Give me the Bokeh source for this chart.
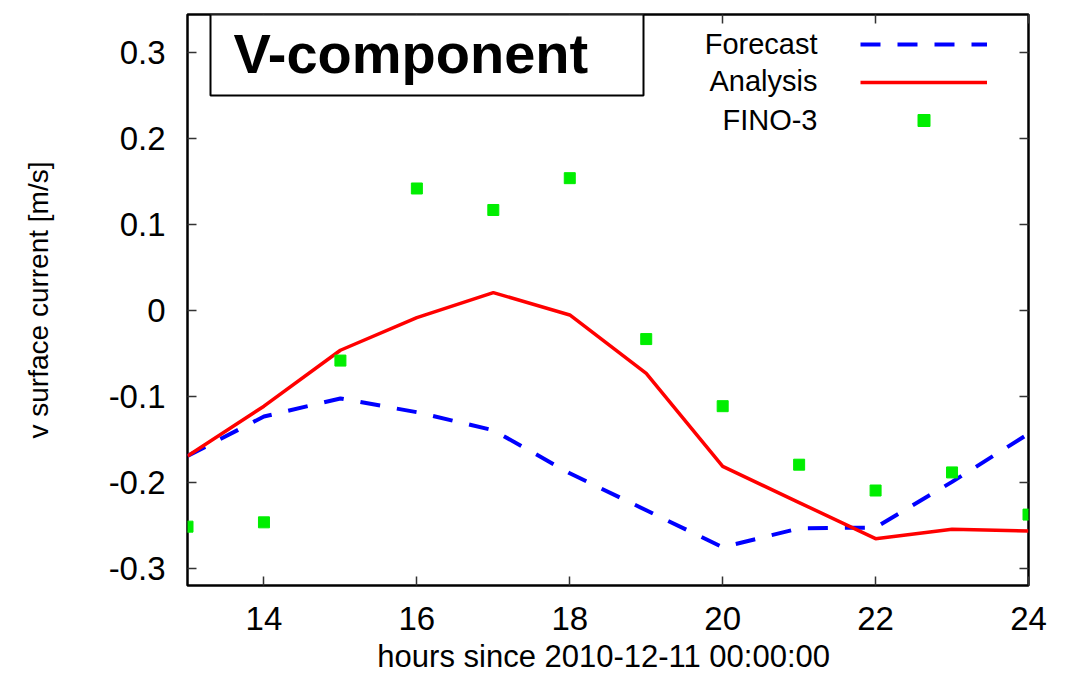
from bokeh.plotting import figure
from bokeh.models import (Range1d, LinearAxis, FixedTicker, Legend, LegendItem,
                          Label, BoxAnnotation)
from bokeh.core.properties import value
from bokeh.embed import file_html
from bokeh.resources import INLINE

# ---- data ----
hours = [13, 14, 15, 16, 17, 18, 19, 20, 21, 22, 23, 24]
forecast = [-0.169, -0.123, -0.102, -0.118, -0.139, -0.189, -0.232, -0.275,
            -0.253, -0.252, -0.199, -0.143]
analysis = [-0.169, -0.111, -0.046, -0.008, 0.021, -0.005, -0.073, -0.181,
            -0.223, -0.265, -0.254, -0.256]
fino3 = [-0.251, -0.246, -0.058, 0.142, 0.117, 0.154, -0.033, -0.111,
         -0.179, -0.209, -0.188, -0.237]
x_ticks = [14, 16, 18, 20, 22, 24]
y_ticks = [-0.3, -0.2, -0.1, 0.0, 0.1, 0.2, 0.3]
y_tick_labels = {-0.3: "-0.3", -0.2: "-0.2", -0.1: "-0.1", 0.0: "0",
                 0.1: "0.1", 0.2: "0.2", 0.3: "0.3"}

X0, X1 = 13, 24
Y0, Y1 = -0.3194, 0.3442
FONT = "Liberation Sans"

W, H = 1064, 684
FL, FT, FR, FB = 187, 14, 1028, 585   # frame edges in page pixels

p = figure(width=W, height=H, x_range=Range1d(X0, X1), y_range=Range1d(Y0, Y1),
           output_backend="svg", toolbar_location=None,
           min_border_left=FL, min_border_right=W - FR, min_border_top=FT,
           min_border_bottom=H - FB, background_fill_color="white",
           border_fill_color="white")
p.xgrid.visible = False
p.ygrid.visible = False
p.outline_line_color = "black"
p.outline_line_width = 2.5
p.outline_line_alpha = 1.0

# bottom axis
xa = p.xaxis[0]
xa.ticker = FixedTicker(ticks=x_ticks)
xa.axis_line_color = None
xa.major_tick_in = 9
xa.major_tick_out = 0
xa.minor_tick_in = 0
xa.minor_tick_out = 0
xa.major_tick_line_color = "#333333"
xa.major_tick_line_width = 1.5
xa.major_label_standoff = 21
xa.major_label_text_font = FONT
xa.major_label_text_font_size = "33px"
xa.major_label_text_color = "black"
xa.axis_label = "hours  since 2010-12-11 00:00:00"
xa.axis_label_text_font = FONT
xa.axis_label_text_font_size = "31px"
xa.axis_label_text_font_style = "normal"
xa.axis_label_text_color = "black"
xa.axis_label_standoff = 6

# left axis
ya = p.yaxis[0]
ya.ticker = FixedTicker(ticks=y_ticks)
ya.major_label_overrides = y_tick_labels
ya.axis_line_color = None
ya.major_tick_in = 9
ya.major_tick_out = 0
ya.minor_tick_in = 0
ya.minor_tick_out = 0
ya.major_tick_line_color = "#333333"
ya.major_tick_line_width = 1.5
ya.major_label_standoff = 22
ya.major_label_text_font = FONT
ya.major_label_text_font_size = "33px"
ya.major_label_text_color = "black"
ya.axis_label = "v surface current [m/s]"
ya.axis_label_text_font = FONT
ya.axis_label_text_font_size = "28px"
ya.axis_label_text_font_style = "normal"
ya.axis_label_text_color = "black"
ya.axis_label_standoff = 52

# mirrored ticks (top / right)
def mirror(ticks):
    ax = LinearAxis(ticker=FixedTicker(ticks=ticks),
                    major_label_overrides={t: "" for t in ticks},
                    major_label_text_font_size="0px", major_label_standoff=0,
                    axis_line_color=None, major_tick_in=9, major_tick_out=0,
                    minor_tick_in=0, minor_tick_out=0,
                    major_tick_line_color="#333333", major_tick_line_width=1.5)
    return ax

p.add_layout(mirror(x_ticks), "above")
p.add_layout(mirror(y_ticks), "right")

# data
r_fc = p.line(hours, forecast, line_color="#0000ff", line_width=4, line_dash="20 17")
r_an = p.line(hours, analysis, line_color="#ff0000", line_width=3.5)
r_fi = p.scatter(hours, fino3, marker="square", size=11, fill_color="#00ee00",
                 line_color="#00ee00")

PX_X = (FR - FL) / (X1 - X0)
PX_Y = (FB - FT) / (Y1 - Y0)

# title box
p.add_layout(BoxAnnotation(left=X0 + (210 - FL) / PX_X, right=X0 + (643 - FL) / PX_X,
                           top=Y1, bottom=Y1 - (95 - FT) / PX_Y,
                           fill_color="white", fill_alpha=1.0,
                           line_color="black", line_alpha=1.0, line_width=2))
p.add_layout(Label(x=X0 + (233 - FL) / PX_X, y=Y1 - (53 - FT) / PX_Y, text="V-component",
                   text_align="left", text_baseline="middle",
                   text_font=FONT, text_font_size="56px",
                   text_font_style="bold", text_color="black"))

# legend: texts right aligned, samples to the right (gnuplot style)
leg_names = ["Forecast", "Analysis", "FINO-3"]
leg_rows = [43, 80, 119]
for name, row in zip(leg_names, leg_rows):
    p.add_layout(Label(x=X0 + (817 - FL) / PX_X, y=Y1 - (row - FT) / PX_Y, text=name,
                       text_align="right", text_baseline="middle",
                       text_font=FONT, text_font_size="29px", text_color="black"))

leg_lines = Legend(items=[LegendItem(label=value(""), renderers=[r_fc]),
                          LegendItem(label=value(""), renderers=[r_an])],
                   location=(860 - FL, FB - 101), glyph_width=127, glyph_height=38,
                   spacing=0, padding=0, margin=0, label_width=0, label_standoff=0,
                   label_text_font_size="1px", border_line_color=None,
                   background_fill_alpha=0)
leg_pts = Legend(items=[LegendItem(label=value(""), renderers=[r_fi])],
                 location=(860 - FL, FB - 135), glyph_width=127, glyph_height=30,
                 spacing=0, padding=0, margin=0, label_width=0, label_standoff=0,
                 label_text_font_size="1px", border_line_color=None,
                 background_fill_alpha=0)
p.add_layout(leg_lines)
p.add_layout(leg_pts)

open("out.html", "w").write(file_html(p, INLINE))
